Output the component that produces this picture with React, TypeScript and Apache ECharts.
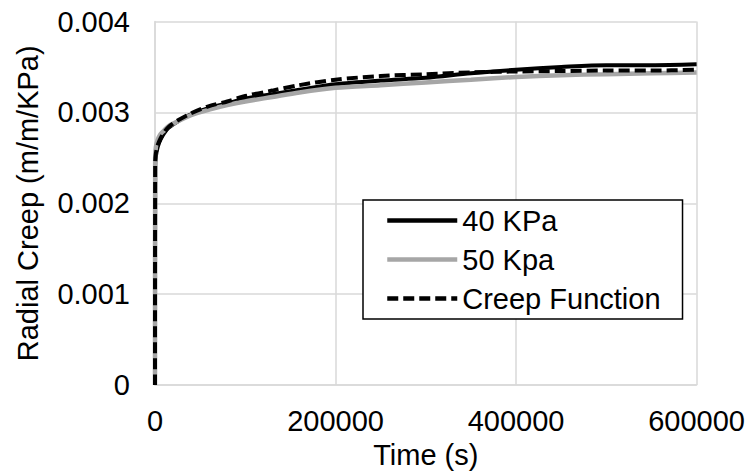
import React, { useEffect, useRef } from "react";
import * as echarts from "echarts";

const times = [0, 200, 1000, 3000, 6000, 10000, 15000, 25000, 40000, 60000, 80000, 100000, 130000, 160000, 200000, 250000, 300000, 350000, 400000, 450000, 500000, 550000, 600000];
const creep40 = [0, 0.0024, 0.00252, 0.00262, 0.0027, 0.00277, 0.00283, 0.0029, 0.00298, 0.00305, 0.0031, 0.00315, 0.0032, 0.00325, 0.00331, 0.00335, 0.00338, 0.00343, 0.00347, 0.0035, 0.00352, 0.00352, 0.00353];
const creep50 = [0, 0.0025, 0.00262, 0.0027, 0.00276, 0.0028, 0.00285, 0.0029, 0.00297, 0.00303, 0.00308, 0.00312, 0.00317, 0.00322, 0.00327, 0.0033, 0.00333, 0.00336, 0.00339, 0.00341, 0.00342, 0.00343, 0.00344];
const creepFn = [0, 0.00245, 0.00255, 0.00264, 0.00271, 0.00278, 0.00284, 0.00291, 0.00299, 0.00307, 0.00312, 0.00318, 0.00324, 0.0033, 0.00336, 0.0034, 0.00342, 0.00344, 0.00345, 0.003455, 0.00346, 0.00346, 0.00347];
const seriesNames = ["40 KPa", "50 Kpa", "Creep Function"];
const xTicks = { min: 0, max: 600000, interval: 200000 };
const yTicks = { min: 0, max: 0.004, interval: 0.001 };

const FONT = "'Liberation Sans', Arial, sans-serif";
const FS = 29;

export default function App() {
  const ref = useRef<HTMLDivElement>(null);
  useEffect(() => {
    if (!ref.current) return;
    const chart = echarts.init(ref.current, null, { renderer: "svg" });
    const pairs = (ys: number[]) => times.map((t, i) => [t, ys[i]]);
    chart.setOption({
      animation: false,
      backgroundColor: "#fff",
      textStyle: { fontFamily: FONT },
      grid: { left: 155, right: 51, top: 21.5, bottom: 86 },
      legend: {
        orient: "vertical",
        left: 363,
        top: 200,
        padding: [6, 22, 6, 22],
        borderColor: "#000",
        borderWidth: 1.5,
        backgroundColor: "#fff",
        itemWidth: 70,
        itemHeight: 14,
        itemGap: 10,
        itemStyle: { opacity: 0 },
        lineStyle: { width: 4.5 },
        textStyle: { fontFamily: FONT, fontSize: FS, color: "#000", lineHeight: 28 },
        data: seriesNames,
      },
      xAxis: {
        type: "value",
        min: xTicks.min,
        max: xTicks.max,
        interval: xTicks.interval,
        name: "Time (s)",
        nameLocation: "middle",
        nameGap: 49,
        nameTextStyle: { fontFamily: FONT, fontSize: FS, color: "#000" },
        axisLine: { show: true, lineStyle: { color: "#d9d9d9", width: 1.5 } },
        axisTick: { show: false },
        axisLabel: { fontFamily: FONT, fontSize: FS, color: "#000", margin: 21, formatter: (v: number) => String(v) },
        splitLine: { show: true, lineStyle: { color: "#d9d9d9", width: 1.5 } },
      },
      yAxis: {
        type: "value",
        min: yTicks.min,
        max: yTicks.max,
        interval: yTicks.interval,
        name: "Radial Creep (m/m/KPa)",
        nameLocation: "middle",
        nameGap: 113,
        nameTextStyle: { fontFamily: FONT, fontSize: FS, color: "#000" },
        axisLine: { show: true, lineStyle: { color: "#d9d9d9", width: 1.5 } },
        axisTick: { show: false },
        axisLabel: { fontFamily: FONT, fontSize: FS, color: "#000", margin: 25 },
        splitLine: { show: true, lineStyle: { color: "#d9d9d9", width: 1.5 } },
      },
      series: [
        {
          name: seriesNames[0],
          type: "line",
          data: pairs(creep40),
          showSymbol: false,
          symbol: "none",
          smooth: 0.3,
          color: "#000",
          lineStyle: { color: "#000", width: 4 },
        },
        {
          name: seriesNames[1],
          type: "line",
          data: pairs(creep50),
          showSymbol: false,
          symbol: "none",
          smooth: 0.3,
          color: "#a6a6a6",
          lineStyle: { color: "#a6a6a6", width: 4.5 },
        },
        {
          name: seriesNames[2],
          type: "line",
          data: pairs(creepFn),
          showSymbol: false,
          symbol: "none",
          smooth: 0.3,
          color: "#000",
          lineStyle: { color: "#000", width: 4, type: [11, 5] },
        },
      ],
    });
    return () => chart.dispose();
  }, []);
  return <div ref={ref} style={{ position: "fixed", left: 0, top: 0, width: 748, height: 474 }} />;
}
